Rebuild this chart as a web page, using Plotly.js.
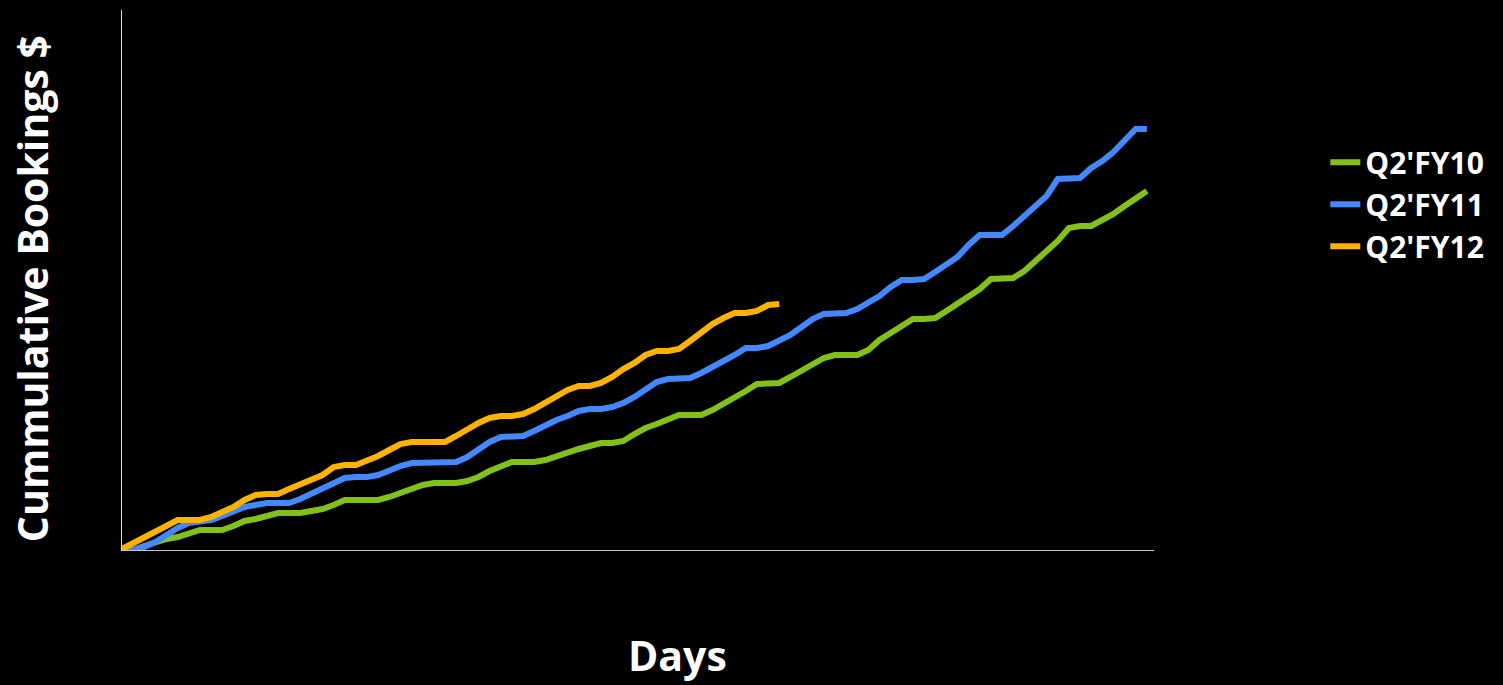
<!DOCTYPE html>
<html>
<head>
<meta charset="utf-8">
<script src="https://cdn.plot.ly/plotly-3.0.1.min.js"></script>
<style>
html,body{margin:0;padding:0;background:#000;}
#chart{width:1503px;height:685px;}
</style>
</head>
<body>
<div id="chart"></div>
<script>
// Cumulative bookings by day of quarter (relative units)
const days = Array.from({length: 93}, (_, i) => i);

const seriesNames = ["Q2'FY10", "Q2'FY11", "Q2'FY12"];

const fy10 = [0,0,4,8,11,13,17,20,20,20,24,29,31,34,37,37,37,39,41,45,
  50,50,50,50,53,57,61,65,67,67,67,69,73,79,84,88,88,88,90,94,
  98,101,104,107,107,109,116,122,126,130,135,135,135,140,146,152,159,166,167,167,
  173,179,186,192,195,195,195,200,210,217,224,231,231,232,239,246,253,261,271,272,
  272,279,289,300,309,322,324,324,330,336,344,352,359];

const fy11 = [0,0,3,8,15,22,27,29,30,34,38,43,45,47,47,47,51,56,61,67,
  72,73,73,75,80,84,87,87,87,87,88,93,100,108,113,114,114,119,125,130,
  134,139,141,141,143,147,153,161,168,171,171,172,177,183,188,195,202,202,204,210,
  215,223,231,236,236,237,241,247,254,263,270,270,271,278,285,293,305,315,315,315,
  324,334,343,354,371,372,372,382,389,398,409,421,421];

const fy12 = [1,7,13,19,25,30,30,30,33,38,43,50,55,56,56,61,66,70,75,83,
  85,85,89,94,100,106,108,108,108,108,114,121,127,132,134,134,136,141,147,153,
  160,164,164,167,173,181,187,195,199,199,201,209,217,226,232,237,237,239,245,246];

const colors = ['#82c11a', '#4388ff', '#ffb300'];
const values = [fy10, fy11, fy12];

const traces = values.map((v, i) => ({
  x: days.slice(0, v.length),
  y: v,
  type: 'scatter',
  mode: 'lines',
  name: seriesNames[i],
  line: {color: colors[i], width: 6}
}));

const layout = {
  width: 1503,
  height: 685,
  paper_bgcolor: '#000',
  plot_bgcolor: '#000',
  margin: {l: 122, r: 349, t: 10, b: 135},
  font: {family: 'Open Sans, sans-serif', color: '#fff'},
  showlegend: true,
  legend: {
    x: 1.166, xanchor: 'left',
    y: 0.766, yanchor: 'top',
    bgcolor: 'rgba(0,0,0,0)',
    font: {size: 30, color: '#fff', family: 'Open Sans, sans-serif', weight: 'bold'},
    itemwidth: 30,
    tracegroupgap: 0
  },
  xaxis: {
    range: [0, 92.64],
    showgrid: false, zeroline: false,
    showticklabels: false, ticks: '',
    showline: true, linecolor: '#c8c8c8', linewidth: 1,
    fixedrange: true
  },
  yaxis: {
    range: [0, 540],
    showgrid: false, zeroline: false,
    showticklabels: false, ticks: '',
    showline: true, linecolor: '#e8d6cf', linewidth: 1,
    fixedrange: true
  },
  annotations: [
    {
      text: '<b>Cummulative Bookings $</b>',
      xref: 'paper', yref: 'paper',
      x: -0.0872, y: 0.483,
      xanchor: 'center', yanchor: 'middle',
      textangle: -90, showarrow: false,
      font: {size: 41, color: '#fff', family: 'Open Sans, sans-serif'}
    },
    {
      text: '<b>Days</b>',
      xref: 'paper', yref: 'paper',
      x: 0.538, y: -0.194,
      xanchor: 'center', yanchor: 'middle',
      showarrow: false,
      font: {size: 41, color: '#fff', family: 'Open Sans, sans-serif'}
    }
  ]
};

Plotly.newPlot('chart', traces, layout, {displayModeBar: false, staticPlot: true});
</script>
</body>
</html>
